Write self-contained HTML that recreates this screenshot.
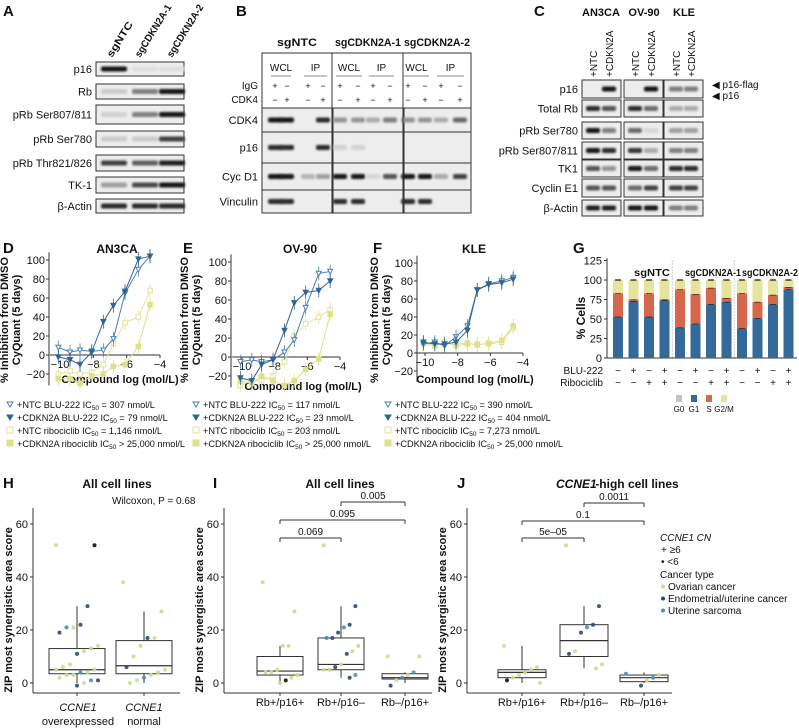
<!DOCTYPE html>
<html><head><meta charset="utf-8"><style>
html,body{margin:0;padding:0;background:#fff}
svg{display:block;font-family:"Liberation Sans",Arial,sans-serif}
</style></head><body>
<svg id="fig" width="799" height="728" viewBox="0 0 799 728" xmlns="http://www.w3.org/2000/svg">
<defs><filter id="bl" x="-20%" y="-100%" width="140%" height="300%"><feGaussianBlur stdDeviation="1.1"/></filter></defs>
</svg>
<script>
// ---------- data arrays ----------
const doseX = [-10.1,-9.4,-8.8,-8.1,-7.4,-6.8,-6.1,-5.3,-4.6];
const dNtcBlu = [8,3,5,4,5,17,65,90,104];
const dCdkBlu = [-2,-5,-10,3,35,52,67,101,104];
const dNtcRibo = [-20,-17,-20,-18,-10,12,34,40,68];
const dCdkRibo = [-25,-25,-30,-22,-20,-12,-10,9,53];
const eNtcBlu = [-5,-3,-5,-3,5,18,52,88,90];
const eCdkBlu = [-22,-25,-8,-3,28,57,68,70,80];
const eNtcRibo = [-30,-25,-25,-20,-5,22,35,42,50];
const eCdkRibo = [-25,-28,-20,-25,-30,-25,-13,-2,45];
const fNtcBlu = [10,12,8,18,30,70,77,80,84];
const fCdkBlu = [12,10,10,12,25,70,76,78,82];
const fNtcRibo = [10,8,12,8,10,10,10,12,28];
const fCdkRibo = [12,9,10,10,11,9,11,14,30];
const curveTicksX = [-10,-8,-6,-4];
const curveTicksY = [-20,0,20,40,60,80,100];
const legD = ["+NTC BLU-222 IC|50| = 307 nmol/L","+CDKN2A BLU-222 IC|50| = 79 nmol/L","+NTC ribociclib IC|50| = 1,146 nmol/L","+CDKN2A ribociclib IC|50| > 25,000 nmol/L"];
const legE = ["+NTC BLU-222 IC|50| = 117 nmol/L","+CDKN2A BLU-222 IC|50| = 23 nmol/L","+NTC ribociclib IC|50| = 203 nmol/L","+CDKN2A ribociclib IC|50| > 25,000 nmol/L"];
const legF = ["+NTC BLU-222 IC|50| = 390 nmol/L","+CDKN2A BLU-222 IC|50| = 404 nmol/L","+NTC ribociclib IC|50| = 7,273 nmol/L","+CDKN2A ribociclib IC|50| > 25,000 nmol/L"];
const gG1 = [53,73,53,74,39,44,69,72,38,51,69,88];
const gS = [30,2,30,1,49,38,21,5,45,21,12,3];
const gG2M = [17,25,17,25,12,18,10,23,17,28,19,9];
const gBlu = ["−","+","−","+","−","+","−","+","−","+","−","+"];
const gRibo = ["−","−","+","+","−","−","+","+","−","−","+","+"];
const gTicks = [0,25,50,75,100,125];
const zipTicks = [0,20,40,60];
const hCats = ["overexpressed","normal"];
const hVals = [[52,52,29,22,21,21,19,14,13,12,11,7,6,5,5,4,4,3,3,2,1,1,0,-1],[38,27,17,17,14,10,6,5,4,3,2,1,0]];
const hTypes = [["o","k","e","e","o","s","e","o","o","o","e","o","o","o","o","o","s","o","o","o","e","s","o","e"],["o","o","o","e","o","o","e","o","o","o","s","o","o"]];
const hBox = [[0,3.5,5,13,29],[0,3.5,6.5,16,27]];
const iCats = ["Rb+/p16+","Rb+/p16–","Rb–/p16+"];
const iVals = [[38,27,14,14,5,4,4,3,2,1,0],[52,29,22,21,19,17,17,14,12,11,7,6,5,5,3,2],[10,10,4,3,2,1,-1]];
const iTypes = [["o","o","o","o","o","o","o","o","o","k","o"],["o","e","e","s","e","e","s","o","o","e","o","e","o","o","s","e"],["o","o","s","o","s","o","e"]];
const iBox = [[0,3,4.5,10,14],[2,5,7,17,29],[0,1.5,2,3.5,4]];
const jVals = [[14,6,5,4,3,2,1,0],[52,29,22,21,19,12,11,7,5.5],[3.5,3,2,1,-1]];
const jTypes = [["o","o","o","o","o","o","k","o"],["o","e","e","s","e","o","e","o","o"],["s","o","s","o","e"]];
const jBox = [[0,2,4,5,14],[5.5,10,16,22,29],[0,0.5,2,3,4]];
const iBrackets = [[0,1,"0.069",538],[0,2,"0.095",520],[1,2,"0.005",502]];
const jBrackets = [[0,1,"5e–05",538],[0,2,"0.1",521],[1,2,"0.0011",503]];

const NS="http://www.w3.org/2000/svg";
const svg=document.getElementById('fig');
function mk(tag,attrs,parent){const e=document.createElementNS(NS,tag);for(const k in attrs)e.setAttribute(k,attrs[k]);(parent||svg).appendChild(e);return e;}
function txt(x,y,s,size,opts){opts=opts||{};const t=mk('text',{x:x,y:y,'font-size':size,'text-anchor':opts.anchor||'start','font-weight':opts.bold?'bold':'normal',fill:opts.fill||'#111'});if(opts.italic)t.setAttribute('font-style','italic');if(opts.rot)t.setAttribute('transform','rotate('+opts.rot+' '+x+' '+y+')');
 if(opts.len){t.setAttribute('textLength',opts.len);t.setAttribute('lengthAdjust','spacingAndGlyphs');}
 if(s.indexOf('|')>=0){const p=s.split('|');t.appendChild(document.createTextNode(p[0]));const sub=mk('tspan',{'font-size':size*0.7,dy:2},t);sub.textContent=p[1];const r=mk('tspan',{dy:-2},t);r.textContent=p[2];}else t.textContent=s;
 
 
 return t;}
function line(x1,y1,x2,y2,c,w,dash){const l=mk('line',{x1:x1,y1:y1,x2:x2,y2:y2,stroke:c||'#222','stroke-width':w||1});if(dash)l.setAttribute('stroke-dasharray',dash);
 
 
 return l;}

// ---------- panel letters ----------
[["A",3,16],["B",236,16],["C",534,16],["D",3,253],["E",183,253],["F",373,253],["G",573,253],["H",3,488],["I",213,488],["J",457,488]].forEach(p=>{txt(p[1],p[2],p[0],15,{bold:true,name:'panel-letter-'+p[0].toLowerCase()});});

// ---------- western blots ----------
function blot(x,y,w,h,lanes,ints,bw,name){
 const g=mk('g',{});
 
 
 mk('rect',{x:x,y:y,width:w,height:h,fill:'#ededed',stroke:'#333','stroke-width':1},g);
 lanes.forEach((cx,i)=>{const v=ints[i];if(v<=0)return;const c=Math.round(235-215*v);
  const b=mk('rect',{x:cx-bw/2,y:y+h/2-2.5,width:bw,height:5,rx:2,fill:'rgb('+c+','+c+','+c+')',filter:'url(#bl)'},g);
  
  });
}
// Panel A
const aLanes=[114,145,172];
[["sgNTC",112,40],["sgCDKN2A-1",140,60],["sgCDKN2A-2",172,60]].forEach(l=>txt(l[1],58,l[0],10,{bold:true,rot:-58,name:'lane-label',len:l[2]}));
const aRows=[["p16",62,14,[1,0.05,0.05]],["Rb",84,15,[0.15,0.5,1]],["pRb Ser807/811",105,19,[0.12,0.5,1]],["pRb Ser780",131,16,[0.15,0.15,0.8]],["pRb Thr821/826",155,16,[0.8,0.65,0.95]],["TK-1",177,16,[0.35,0.75,1]],["β-Actin",199,14,[0.9,0.9,0.9]]];
aRows.forEach(r=>{blot(96,r[1],88,r[2],aLanes,r[3],26,'blot-a');txt(92,r[1]+r[2]/2+4,r[0],11,{anchor:'end',name:'row-label'});});
// Panel B
[["sgNTC",297,40],["sgCDKN2A-1",368,66],["sgCDKN2A-2",437,66]].forEach(l=>txt(l[1],46,l[0],11,{bold:true,anchor:'middle',name:'group-label',len:l[2]}));
const bBox=mk('rect',{x:262,y:53,width:209,height:160,fill:'none',stroke:'#333'});


const bL=[[275,287,308,323],[340,358,373,390],[408,425,441,460]];
bL.forEach((L,s)=>{txt((L[0]+L[1])/2,71,"WCL",10,{anchor:'middle',name:'wcl-label'});txt((L[2]+L[3])/2,71,"IP",10,{anchor:'middle',name:'ip-label'});
 line(L[0]-4,76,L[1]+4,76,'#888',1);line(L[2]-4,76,L[3]+4,76,'#888',1);
 ["+","−","+","−"].forEach((c,i)=>txt(L[i],89,c,9,{anchor:'middle',name:'igg-sign'}));
 ["−","+","−","+"].forEach((c,i)=>txt(L[i],103,c,9,{anchor:'middle',name:'cdk4-sign'}));});
txt(258,89,"IgG",10,{anchor:'end'});txt(258,103,"CDK4",10,{anchor:'end'});
const bRows=[["CDK4",108,24,[[1,1,0,0.9],[0.4,0.4,0.3,0.5],[0.4,0.4,0.3,0.6]]],["p16",132,31,[[0.9,0.9,0,0.9],[0.12,0.12,0,0],[0,0,0,0]]],["Cyc D1",163,27,[[1,1,0.25,0.35],[1,1,0.1,0.7],[1,1,0.3,0.8]]],["Vinculin",190,23,[[0.9,0.9,0,0],[0.9,0.9,0,0],[0.9,0.9,0,0]]]];
bRows.forEach(r=>{[[262,70],[333,70],[404,67]].forEach((s,k)=>blot(s[0],r[1],s[1],r[2],bL[k],r[3][k],14,'blot-b'));txt(258,r[1]+r[2]/2+4,r[0],11,{anchor:'end',name:'row-label'});});
line(332,53,332,213,'#333',1);line(403,53,403,213,'#333',1);
// Panel C
[["AN3CA",601],["OV-90",644],["KLE",684]].forEach(l=>txt(l[1],16,l[0],11,{bold:true,anchor:'middle',name:'cell-line-label'}));
const cCols=[[582,[593,609]],[624,[635,651]],[664,[676,691]]];
cCols.forEach(c=>{txt(c[1][0]+4,77,"+NTC",10,{rot:-90,name:'lane-label'});txt(c[1][1]+4,77,"+CDKN2A",10,{rot:-90,name:'lane-label'});});
const cRows=[["p16",80,18,[[0,1],[0,1],[0.5,0.5]]],["Total Rb",100,17,[[0.9,0.7],[0.9,0.6],[0.3,0.3]]],["pRb Ser780",122,17,[[1,0.5],[0.6,0.1],[0.35,0.35]]],["pRb Ser807/811",142,17,[[1,0.9],[0.85,0.3],[0.5,0.5]]],["TK1",160,17,[[0.7,0.4],[1,0.6],[0.9,0.9]]],["Cyclin E1",179,18,[[0.7,0.7],[0.6,0.8],[0.8,0.8]]],["β-Actin",200,16,[[0.95,0.95],[1,1],[0.5,0.5]]]];
cRows.forEach(r=>{cCols.forEach((c,k)=>blot(c[0],r[1],39,r[2],c[1],r[3][k],14,'blot-c'));txt(578,r[1]+r[2]/2+4,r[0],11,{anchor:'end',name:'row-label'});});
txt(712,88,"◀ p16-flag",10,{name:'p16-flag-arrow'});txt(712,99,"◀ p16",10,{name:'p16-arrow'});

// ---------- dose-response panels ----------
function curvePanel(o){
 const xs=v=>o.x0+(v+10)*o.kx, ys=v=>o.y0-v*o.ky;
 txt(o.tx,253,o.title,12,{bold:true,anchor:'middle',name:'chart-title'});
 line(o.ax,ys(108),o.ax,ys(-32),'#333',1);
 curveTicksY.forEach(t=>{line(o.ax-3,ys(t),o.ax,ys(t),'#333',1);txt(o.ax-4,ys(t)+4,t<0?'−'+(-t):String(t),11,{anchor:'end',name:'y-tick-label'});});
 line(xs(-10.6),o.y0,xs(-4),o.y0,'#333',1);
 curveTicksX.forEach(t=>{line(xs(t),o.y0,xs(t),o.y0+3,'#333',1);txt(xs(t),o.y0+13,'−'+(-t),11,{anchor:'middle',name:'x-tick-label'});});
 txt(o.xtx,o.xty,"Compound log (mol/L)",11,{bold:true,anchor:'middle',name:'x-axis-title'});
 txt(o.ylx,320,"% Inhibition from DMSO",11,{bold:true,anchor:'middle',rot:-90,name:'y-axis-title'});
 txt(o.ylx+12,320,"CyQuant (5 days)",11,{bold:true,anchor:'middle',rot:-90,name:'y-axis-title'});
 const series=[[o.s[2],'#e2e49a','sq-open'],[o.s[3],'#dfe08a','sq-fill'],[o.s[0],'#4a7fb0','tri-open'],[o.s[1],'#2f6496','tri-fill']];
 series.forEach(s=>{
  const pts=doseX.map((x,i)=>xs(x)+','+ys(s[0][i])).join(' ');
  const pl=mk('polyline',{points:pts,fill:'none',stroke:s[1],'stroke-width':1});
  
  
  doseX.forEach((x,i)=>{const cx=xs(x),cy=ys(s[0][i]);
   const eb=mk('line',{x1:cx,y1:cy-7,x2:cx,y2:cy+7,stroke:s[1],'stroke-width':0.8});
   
   
   let m;
   if(s[2].startsWith('tri'))m=mk('polygon',{points:(cx-2.5)+','+(cy-2.2)+' '+(cx+2.5)+','+(cy-2.2)+' '+cx+','+(cy+2.6),fill:s[2]=='tri-fill'?s[1]:'#fff',stroke:s[1],'stroke-width':1});
   else m=mk('rect',{x:cx-2.3,y:cy-2.3,width:4.6,height:4.6,fill:s[2]=='sq-fill'?s[1]:'#fff',stroke:s[1],'stroke-width':1});
   
   });
 });
 o.leg.forEach((l,i)=>{const y=408+i*13;const c=['#4a7fb0','#2f6496','#e2e49a','#dfe08a'][i];const lx=o.lgx+4;
  let m;if(i<2)m=mk('polygon',{points:(lx-3)+','+(y-6)+' '+(lx+3)+','+(y-6)+' '+lx+','+(y-1),fill:i==1?c:'#fff',stroke:c});
  else m=mk('rect',{x:lx-3,y:y-7,width:6,height:6,fill:i==3?c:'#fff',stroke:c});
  
  
  txt(o.lgx+11,y,l,9.2,{name:'legend-entry'});});
}
curvePanel({title:"AN3CA",tx:117,x0:60,kx:16.67,y0:355,ky:0.95,ax:49,xtx:120,xty:383,ylx:8,s:[dNtcBlu,dCdkBlu,dNtcRibo,dCdkRibo],leg:legD,lgx:6});
curvePanel({title:"OV-90",tx:300,x0:242,kx:16.33,y0:357,ky:0.95,ax:231,xtx:303,xty:390,ylx:188,s:[eNtcBlu,eCdkBlu,eNtcRibo,eCdkRibo],leg:legE,lgx:192});
curvePanel({title:"KLE",tx:474,x0:425,kx:16.33,y0:353,ky:0.9,ax:417,xtx:475,xty:383,ylx:378,s:[fNtcBlu,fCdkBlu,fNtcRibo,fCdkRibo],leg:legF,lgx:384});

// ---------- panel G ----------
(function(){
 const yG=v=>358-v*0.78, xG=i=>618+i*15.5;
 line(607,yG(128),607,358,'#333',1);line(607,358,797,358,'#333',1);
 gTicks.forEach(t=>{line(604,yG(t),607,yG(t),'#333',1);txt(602,yG(t)+4,String(t),11,{anchor:'end',name:'y-tick-label'});});
 txt(585,318,"% Cells",12,{bold:true,anchor:'middle',rot:-90,name:'y-axis-title'});
 [["sgNTC",652,36],["sgCDKN2A-1",713,56],["sgCDKN2A-2",770,56]].forEach(l=>txt(l[1],276,l[0],10,{bold:true,anchor:'middle',name:'group-label',len:l[2]}));
 line((xG(3)+xG(4))/2,yG(125),(xG(3)+xG(4))/2,358,'#888',0.8,'1,2');line((xG(7)+xG(8))/2,yG(125),(xG(7)+xG(8))/2,358,'#888',0.8,'1,2');
 gG1.forEach((v,i)=>{const x=xG(i)-5;
  const segs=[[0,v,'#336a99','bar-g1'],[v,v+gS[i],'#d4674c','bar-s'],[v+gS[i],v+gS[i]+gG2M[i],'#e6e49c','bar-g2m']];
  segs.forEach(s=>{const r=mk('rect',{x:x,y:yG(s[1]),width:10,height:yG(s[0])-yG(s[1]),fill:s[2]});
   
   
   line(x+2,yG(s[1]),x+8,yG(s[1]),'#111',1.2);});
  txt(xG(i),374,gBlu[i],10,{anchor:'middle',name:'blu-sign'});txt(xG(i),386,gRibo[i],10,{anchor:'middle',name:'ribo-sign'});});
 txt(603,374,"BLU-222",10,{anchor:'end'});txt(603,386,"Ribociclib",10,{anchor:'end'});
 [['#c4c4c4',"G0"],['#336a99',"G1"],['#d4674c',"S"],['#e6e49c',"G2/M"]].forEach((l,i)=>{const x=679+i*15;const r=mk('rect',{x:x-3,y:395,width:6,height:7,fill:l[0]});
  
  
  txt(x,412,l[1],8,{anchor:'middle',name:'legend-entry'});});
})();

// ---------- box plots H, I, J ----------
const typeColor={o:'#cddc8e',e:'#2c4a6e',s:'#4c8db8',k:'#111'};
const yZ=v=>683-2.65*v;
function boxPanel(o){
 const tt=txt(o.tx,488,o.title,12,{bold:true,anchor:'middle',name:'chart-title'});
 line(o.ax,yZ(66),o.ax,693,'#333',1);line(o.ax,693,o.ax2,693,'#333',1);
 zipTicks.forEach(t=>{line(o.ax-3,yZ(t),o.ax,yZ(t),'#333',1);txt(o.ax-5,yZ(t)+4,String(t),11,{anchor:'end',name:'y-tick-label'});});
 txt(o.ax-21,610,"ZIP most synergistic area score",11,{bold:true,anchor:'middle',rot:-90,name:'y-axis-title'});
 o.centers.forEach((cx,g)=>{const b=o.box[g],hw=o.hw;
  line(cx,yZ(b[0]),cx,yZ(b[1]),'#333',1);line(cx,yZ(b[3]),cx,yZ(b[4]),'#333',1);
  const r=mk('rect',{x:cx-hw,y:yZ(b[3]),width:2*hw,height:yZ(b[1])-yZ(b[3]),fill:'none',stroke:'#333','stroke-width':1});
  
  
  line(cx-hw,yZ(b[2]),cx+hw,yZ(b[2]),'#333',1.2);
  line(cx,693,cx,696,'#333',1);
  o.vals[g].forEach((v,i)=>{const jx=cx+(((i*37)%13)-6)*hw/8;const t=o.types[g][i];
   const c=mk('circle',{cx:jx,cy:yZ(v),r:2,fill:typeColor[t],opacity:0.9});
   
   });
 });
 (o.br||[]).forEach(b=>{const x1=o.centers[b[0]],x2=o.centers[b[1]];line(x1,b[3]+4,x1,b[3],'#333',1);line(x1,b[3],x2,b[3],'#333',1);line(x2,b[3],x2,b[3]+4,'#333',1);txt((x1+x2)/2,b[3]-3,b[2],10,{anchor:'middle',name:'p-value'});});
 return tt;
}
boxPanel({title:"All cell lines",tx:117,ax:33,ax2:180,centers:[77,144],hw:28,box:hBox,vals:hVals,types:hTypes});
txt(78,711,"CCNE1",11,{anchor:'middle',italic:true,name:'x-tick-label'});txt(78,725,"overexpressed",11,{anchor:'middle',name:'x-tick-label'});
txt(144,711,"CCNE1",11,{anchor:'middle',italic:true,name:'x-tick-label'});txt(144,725,"normal",11,{anchor:'middle',name:'x-tick-label'});
txt(112,504,"Wilcoxon, P = 0.68",10,{name:'test-label'});
boxPanel({title:"All cell lines",tx:340,ax:224,ax2:432,centers:[280,341,405],hw:23,box:iBox,vals:iVals,types:iTypes,br:iBrackets});
iCats.forEach((c,i)=>txt([280,341,405][i],706,c,11,{anchor:'middle',name:'x-tick-label'}));
const jt=boxPanel({title:"-high cell lines",tx:637,ax:467,ax2:672,centers:[522,584,644],hw:24,box:jBox,vals:jVals,types:jTypes,br:jBrackets});
txt(556,488,"CCNE1",12,{bold:true,italic:true,name:'chart-title-gene'});
iCats.forEach((c,i)=>txt([522,584,644][i],706,c,11,{anchor:'middle',name:'x-tick-label'}));
// legend
txt(660,541,"CCNE1 CN",10,{italic:true,name:'legend-title'});
txt(661,553,"+ ≥6",10,{name:'legend-entry'});txt(661,565,"• <6",10,{name:'legend-entry'});
txt(660,578,"Cancer type",10,{name:'legend-title'});
[["Ovarian cancer",'o'],["Endometrial/uterine cancer",'e'],["Uterine sarcoma",'s']].forEach((l,i)=>{const y=590+i*12;const c=mk('circle',{cx:663,cy:y-3.5,r:2,fill:typeColor[l[1]]});
 
 
 txt(668,y,l[0],10,{name:'legend-entry'});});
</script>
</body></html>
